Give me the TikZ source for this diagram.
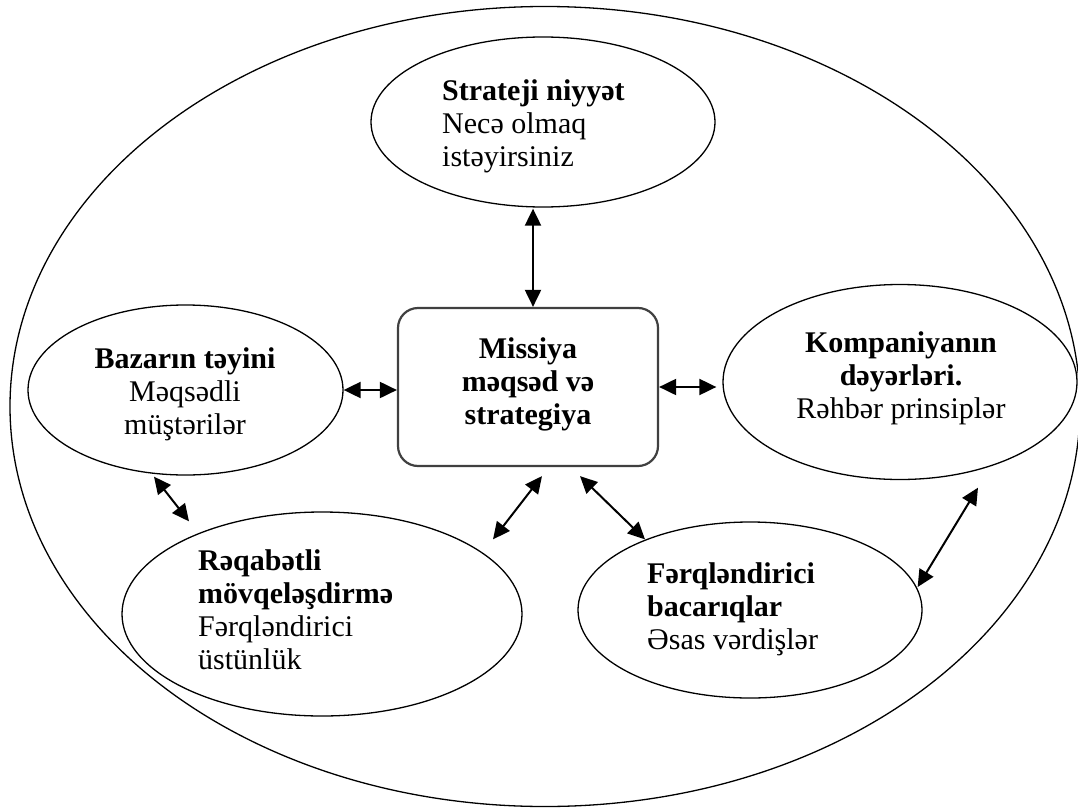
\documentclass[tikz,border=0pt]{standalone}
\usepackage{fontspec}
\setmainfont{Liberation Serif}
\usetikzlibrary{shapes.geometric,arrows.meta,calc}
\begin{document}
\begin{tikzpicture}[x=1pt,y=-1pt,
  oval/.style={draw, ellipse, line width=1.3pt, inner sep=0pt},
  lbl/.style={font=\fontsize{30}{33}\selectfont, inner sep=0pt},
  arr/.style={{Triangle[length=17pt,width=16pt]}-{Triangle[length=17pt,width=16pt]}, line width=2pt},
]
\useasboundingbox (0,0) rectangle (1078,808);
% outer ellipse
\node[oval, minimum width=1070pt, minimum height=800pt] (outer) at (545,406.5) {};
% shapes
\node[oval, minimum width=344pt, minimum height=170pt] (top) at (543,122) {};
\node[draw=black!75, line width=2.2pt, rounded corners=20pt, minimum width=260pt, minimum height=158pt, inner sep=0pt] (box) at (528,387) {};
\node[oval, minimum width=315pt, minimum height=170pt] (left) at (185.5,390) {};
\node[oval, minimum width=354pt, minimum height=195pt] (right) at (900,382) {};
\node[oval, minimum width=400pt, minimum height=204pt] (rq) at (322,614) {};
\node[oval, minimum width=344pt, minimum height=176pt] (fq) at (750,610) {};
% texts (base anchor = baseline of last line)
\node[lbl, align=left, anchor=base west] (ttop) at (442,166) {\textbf{Strateji niyyət}\\Necə olmaq\\istəyirsiniz};
\node[lbl, align=center, anchor=base] (tbox) at (528,424) {\textbf{Missiya}\\\textbf{məqsəd və}\\\textbf{strategiya}};
\node[lbl, align=center, anchor=base] (tleft) at (185,434) {\textbf{Bazarın təyini}\\Məqsədli\\müştərilər};
\node[lbl, align=center, anchor=base] (tright) at (901,418) {\textbf{Kompaniyanın}\\\textbf{dəyərləri.}\\Rəhbər prinsiplər};
\node[lbl, align=left, anchor=base west] (trq) at (198,669) {\textbf{Rəqabətli}\\\textbf{mövqeləşdirmə}\\Fərqləndirici\\üstünlük};
\node[lbl, align=left, anchor=base west] (tfq) at (647,649) {\textbf{Fərqləndirici}\\\textbf{bacarıqlar}\\Əsas vərdişlər};
% connectors
\draw[arr] ($(top.south)+(-10,1)$) -- ($(box.north)+(5,0)$);
\draw[arr] (left.east) -- (left.east -| box.west);
\draw[arr, shorten >=6pt] (box.east) -- (box.east -| right.west);
\draw[arr] ($(left.south)+(-31.5,1)$) -- ($(rq.north)+(-133,10)$);
\draw[arr] ($(box.south)+(14,9)$) -- ($(rq.north)+(171,28)$);
\draw[arr] ($(box.south)+(52,9)$) -- ($(fq.north)+(-105,18)$);
\draw[arr] ($(right.south)+(78,7.5)$) -- ($(fq.east)+(-5,-23)$);
\end{tikzpicture}
\end{document}
